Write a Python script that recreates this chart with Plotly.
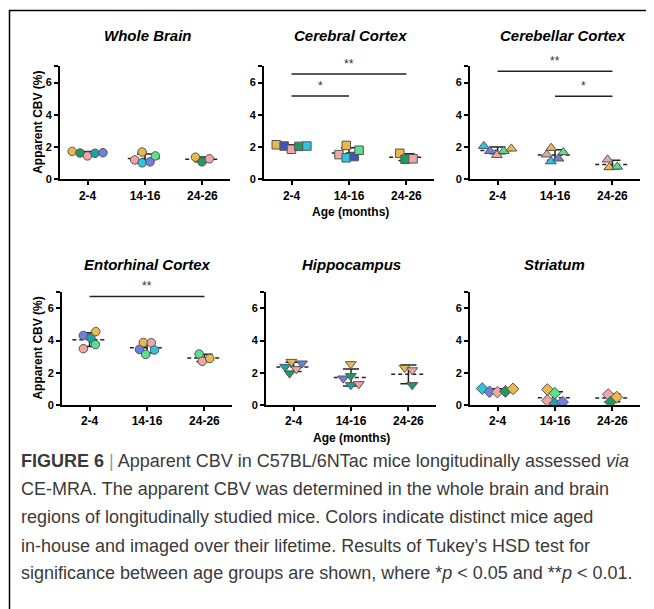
import numpy as np
import plotly.graph_objects as go

# page body has an 8px default margin; figure is sized so that it fills the 654x609 window
OFF = 8
W, H = 654 - OFF, 609 - OFF
FONT = "Liberation Sans, Arial, sans-serif"
CAP_FONT = "Liberation Sans, Arial, sans-serif"

GROUPS = ["2-4", "14-16", "24-26"]

MOUSE_COLORS = {
    "gold": "#E9B94C", "dgreen": "#1F9A60", "pink": "#F2A5A5", "teal": "#18A3AB",
    "blue": "#6F7FE0", "mint": "#58E28E", "cyan": "#2EC5DE", "navy": "#4253BE",
}

whole_brain_vals = [[1.73, 1.63, 1.45, 1.61, 1.65], [1.20, 1.02, 1.69, 1.08, 1.45], [1.37, 1.08, 1.27]]
whole_brain_cols = [["gold", "dgreen", "pink", "teal", "blue"], ["pink", "cyan", "gold", "blue", "mint"], ["gold", "dgreen", "pink"]]

cerebral_vals = [[2.14, 2.06, 1.86, 2.04, 2.06], [1.53, 1.33, 2.10, 1.41, 1.80], [1.61, 1.24, 1.27]]
cerebral_cols = [["gold", "navy", "pink", "dgreen", "cyan"], ["pink", "cyan", "gold", "navy", "mint"], ["gold", "dgreen", "pink"]]

cerebellar_vals = [[2.06, 1.75, 1.50, 1.75, 1.90], [1.53, 1.11, 1.94, 1.28, 1.67], [1.22, 0.74, 0.78]]
cerebellar_cols = [["cyan", "blue", "pink", "mint", "gold"], ["pink", "cyan", "gold", "blue", "mint"], ["pink", "gold", "mint"]]

entorhinal_vals = [[4.31, 3.49, 4.16, 3.75, 4.55], [3.45, 3.88, 3.14, 3.86, 3.41], [3.16, 2.71, 2.89]]
entorhinal_cols = [["blue", "pink", "teal", "mint", "gold"], ["blue", "gold", "mint", "pink", "cyan"], ["mint", "pink", "gold"]]

hippocampus_vals = [[2.37, 1.96, 2.68, 2.23, 2.58], [1.65, 1.80, 2.54, 1.24, 1.30], [2.31, 2.16, 1.24]]
hippocampus_cols = [["teal", "dgreen", "gold", "pink", "blue"], ["blue", "dgreen", "gold", "teal", "pink"], ["gold", "pink", "dgreen"]]

striatum_vals = [[1.02, 0.82, 0.80, 0.84, 1.00], [0.27, 0.96, 0.08, 0.73, 0.18], [0.65, 0.18, 0.49]]
striatum_cols = [["cyan", "blue", "pink", "dgreen", "gold"], ["pink", "gold", "teal", "mint", "blue"], ["pink", "dgreen", "gold"]]

sig_cerebral = [(0, 1, 5.16, "*"), (0, 2, 6.53, "**")]
sig_cerebellar = [(0, 2, 6.70, "**"), (1, 2, 5.15, "*")]
sig_entorhinal = [(0, 2, 6.73, "**")]

panels = [
    dict(title="Whole Brain", vals=whole_brain_vals, cols=whole_brain_cols, symbol="circle", sig=[]),
    dict(title="Cerebral Cortex", vals=cerebral_vals, cols=cerebral_cols, symbol="square", sig=sig_cerebral),
    dict(title="Cerebellar Cortex", vals=cerebellar_vals, cols=cerebellar_cols, symbol="triangle-up", sig=sig_cerebellar),
    dict(title="Entorhinal Cortex", vals=entorhinal_vals, cols=entorhinal_cols, symbol="circle", sig=sig_entorhinal),
    dict(title="Hippocampus", vals=hippocampus_vals, cols=hippocampus_cols, symbol="triangle-down", sig=[]),
    dict(title="Striatum", vals=striatum_vals, cols=striatum_cols, symbol="diamond", sig=[]),
]

caption_lines = [
    "<b>FIGURE 6</b> <span style='color:#999999'>|</span> Apparent CBV in C57BL/6NTac mice longitudinally assessed <i>via</i>",
    "CE-MRA. The apparent CBV was determined in the whole brain and brain",
    "regions of longitudinally studied mice. Colors indicate distinct mice aged",
    "in-house and imaged over their lifetime. Results of Tukey\u2019s HSD test for",
    "significance between age groups are shown, where *<i>p</i> &lt; 0.05 and **<i>p</i> &lt; 0.01.",
]

# ---- layout geometry (window pixels) ----
x_dom_px = [(60, 230), (264, 434), (470, 640), (62, 232), (266, 436), (470, 640)]
y_dom_px = [(67, 181)] * 3 + [(295, 409)] * 3
title_pos = [(148, 36), (350, 36), (563, 36), (147, 267), (351, 267), (554, 267)]
XR = [-0.48, 2.48]
YR = [0, 7]
SYM_SIZE = {"circle": 8.5, "square": 8.5, "triangle-up": 9.5, "triangle-down": 9.5, "diamond": 9}


def fx(p):
    return (p - OFF) / W


def fy(p):
    return 1 - (p - OFF) / H


def pack(vals, xpx, ypx, d=8.0):
    xs = []
    for i, v in enumerate(vals):
        x = xs[-1] if xs else 0.0
        for j in range(i):
            dy = abs(v - vals[j]) * ypx
            if dy < d:
                x = max(x, xs[j] + np.sqrt(d * d - dy * dy))
        xs.append(x)
    xs = np.array(xs)
    xs -= (xs.min() + xs.max()) / 2
    return xs / xpx


fig = go.Figure()
annotations = []
shapes = []
layout = {}

for k, p in enumerate(panels):
    sfx = "" if k == 0 else str(k + 1)
    xa, ya = "x" + sfx, "y" + sfx
    (x0, x1), (y0, y1) = x_dom_px[k], y_dom_px[k]
    xpx = (x1 - x0) / (XR[1] - XR[0])
    ypx = (y1 - y0) / (YR[1] - YR[0])
    for g, (vals, cols) in enumerate(zip(p["vals"], p["cols"])):
        vals = np.array(vals)
        m = vals.mean()
        s = vals.std(ddof=1)
        fig.add_trace(go.Scatter(
            x=[g - 0.3, g + 0.3], y=[m, m], mode="lines", xaxis=xa, yaxis=ya,
            line=dict(color="#222222", width=1.5, dash="4px,3px"), hoverinfo="skip", showlegend=False))
        cw = 0.14
        fig.add_trace(go.Scatter(
            x=[g, g, None, g - cw, g + cw, None, g - cw, g + cw],
            y=[m - s, m + s, None, m + s, m + s, None, m - s, m - s],
            mode="lines", xaxis=xa, yaxis=ya,
            line=dict(color="#222222", width=1.5), hoverinfo="skip", showlegend=False))
        offs = pack(list(vals), xpx, ypx)
        fig.add_trace(go.Scatter(
            x=g + offs, y=vals, mode="markers", xaxis=xa, yaxis=ya, showlegend=False,
            marker=dict(symbol=p["symbol"], size=SYM_SIZE[p["symbol"]],
                        color=[MOUSE_COLORS[c] for c in cols],
                        line=dict(color="#555555", width=1))))
    for (a, b, yv, lab) in p["sig"]:
        fig.add_trace(go.Scatter(
            x=[a, b], y=[yv, yv], mode="lines", xaxis=xa, yaxis=ya, showlegend=False,
            line=dict(color="#222222", width=1.5), hoverinfo="skip", cliponaxis=False))
        annotations.append(dict(x=(a + b) / 2, y=yv, xref=xa, yref=ya, text=lab, showarrow=False,
                                yanchor="bottom", yshift=1, font=dict(family=FONT, size=12, color="#333333")))

    axis_common = dict(showline=True, linecolor="black", linewidth=2, ticks="outside", ticklen=4,
                       tickwidth=1.5, tickcolor="black", showgrid=False, zeroline=False)
    layout["xaxis" + sfx] = dict(domain=[fx(x0), fx(x1)], anchor=ya, range=XR, tickvals=[0, 1, 2],
                                 ticktext=GROUPS,
                                 tickfont=dict(family=FONT, size=12, color="black", weight="bold"),
                                 **axis_common)
    layout["yaxis" + sfx] = dict(domain=[fy(y1), fy(y0)], anchor=xa, range=YR,
                                 tickvals=[0, 2, 4, 6, 7], ticktext=["0", "2", "4", "6", ""],
                                 tickfont=dict(family=FONT, size=11, color="black", weight="bold"),
                                 **axis_common)
    tx, ty = title_pos[k]
    annotations.append(dict(x=fx(tx), y=fy(ty), xref="paper", yref="paper", text="<b><i>" + p["title"] + "</i></b>",
                            showarrow=False, xanchor="center", yanchor="middle",
                            font=dict(family=FONT, size=15, color="black")))

for (ax_x, ax_y) in [(38, 124), (38, 352)]:
    annotations.append(dict(x=fx(ax_x), y=fy(ax_y), xref="paper", yref="paper", text="<b>Apparent CBV (%)</b>",
                            textangle=-90, showarrow=False, xanchor="center", yanchor="middle",
                            font=dict(family=FONT, size=12, color="black")))
for (ax_x, ax_y) in [(350, 214), (351, 442)]:
    annotations.append(dict(x=fx(ax_x), y=fy(ax_y), xref="paper", yref="paper", text="<b>Age (months)</b>",
                            textangle=0, showarrow=False, xanchor="center", yanchor="middle",
                            font=dict(family=FONT, size=12, color="black")))

cap_y = [466, 494, 522, 551, 579]
for line, cy in zip(caption_lines, cap_y):
    annotations.append(dict(x=fx(19), y=fy(cy), xref="paper", yref="paper", text=line,
                            showarrow=False, xanchor="left", yanchor="middle",
                            font=dict(family=CAP_FONT, size=18, color="#3a3a3a")))

shapes.append(dict(type="rect", xref="paper", yref="paper", x0=fx(9.5), x1=1.05, y0=-0.05, y1=fy(10.5),
                   line=dict(color="black", width=1.5), fillcolor="rgba(0,0,0,0)"))

fig.update_layout(width=W, height=H, margin=dict(l=0, r=0, t=0, b=0), autosize=False,
                  paper_bgcolor="white", plot_bgcolor="white", showlegend=False,
                  annotations=annotations, shapes=shapes, **layout)

fig.write_html("out.html")
